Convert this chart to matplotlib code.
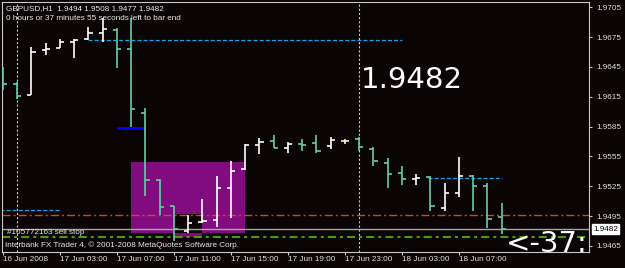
import matplotlib
matplotlib.use("Agg")
import matplotlib.pyplot as plt
import matplotlib.transforms as mtransforms
from matplotlib.patches import Rectangle
import numpy as np

plt.rcParams['lines.scale_dashes'] = False

# ---------------- data ----------------
opens  = [1.9638, 1.9628, 1.9617, 1.9662, 1.9664, 1.9670, 1.9673, 1.9679, 1.9682, 1.9663,
          1.9599, 1.9531, 1.9505, 1.9480, 1.9489, 1.9491, 1.9523, 1.9542, 1.9567, 1.9571,
          1.9564, 1.9568, 1.9569, 1.9566, 1.9571, 1.9573, 1.9563, 1.9548, 1.9538, 1.9532,
          1.9534, 1.9503, 1.9518, 1.9535, 1.9525, 1.9494]
highs  = [1.9645, 1.9630, 1.9665, 1.9669, 1.9673, 1.9673, 1.9685, 1.9694, 1.9684, 1.9694,
          1.9604, 1.9532, 1.9505, 1.9496, 1.9512, 1.9535, 1.9550, 1.9568, 1.9574, 1.9577,
          1.9570, 1.9573, 1.9577, 1.9575, 1.9573, 1.9575, 1.9565, 1.9553, 1.9545, 1.9537,
          1.9535, 1.9528, 1.9554, 1.9536, 1.9528, 1.9508]
lows   = [1.9622, 1.9613, 1.9617, 1.9657, 1.9664, 1.9654, 1.9672, 1.9670, 1.9644, 1.9585,
          1.9515, 1.9496, 1.9470, 1.9478, 1.9488, 1.9484, 1.9493, 1.9541, 1.9557, 1.9564,
          1.9559, 1.9561, 1.9559, 1.9563, 1.9568, 1.9561, 1.9545, 1.9523, 1.9526, 1.9526,
          1.9500, 1.9500, 1.9514, 1.9500, 1.9483, 1.9477]
closes = [1.9628, 1.9616, 1.9660, 1.9663, 1.9670, 1.9672, 1.9679, 1.9683, 1.9663, 1.9603,
          1.9531, 1.9504, 1.9482, 1.9488, 1.9490, 1.9523, 1.9540, 1.9567, 1.9570, 1.9564,
          1.9568, 1.9567, 1.9561, 1.9572, 1.9571, 1.9565, 1.9550, 1.9537, 1.9532, 1.9533,
          1.9505, 1.9518, 1.9535, 1.9525, 1.9492, 1.9482]

xtick_pos    = [0, 4, 8, 12, 16, 20, 24, 28, 32]
xtick_labels = ["16 Jun 2008", "17 Jun 03:00", "17 Jun 07:00", "17 Jun 11:00", "17 Jun 15:00",
                "17 Jun 19:00", "17 Jun 23:00", "18 Jun 03:00", "18 Jun 07:00"]
ytick_vals   = [1.9465, 1.9495, 1.9525, 1.9555, 1.9585, 1.9615, 1.9645, 1.9675, 1.9705]
ytick_labels = ["1.9465", "1.9495", "1.9525", "1.9555", "1.9585", "1.9615", "1.9645", "1.9675", "1.9705"]
separators   = [1, 25]          # day separators (bar index)

# chart objects (time index / price)
rect_main  = (9, 17, 1.9478, 1.9549)
rect_order = (12, 14, 1.9474, 1.9497)
blue_line  = (8, 10, 1.9584)
cyan_lines = [(6, 28, 1.9672), (-0.2, 4, 1.9501), (29.8, 35, 1.9533)]
red_level   = 1.9496
bid_level   = 1.9482
green_level = 1.9474

symbol = "GBPUSD,H1"
# ---------------------------------------

W, H = 625, 268
BG = '#0a0404'
BEAR = '#66cdaa'
BULL = '#ffffff'
DOJI = '#f4f4c8'
SMALL = dict(family=['Liberation Sans', 'DejaVu Sans'], fontsize=5.9, color='#e8e8e8')

fig = plt.figure(figsize=(W / 100, H / 100), dpi=100, facecolor=BG)

L, R, T, B = 2, 589, 2, 252
ax = fig.add_axes([L / W, (H - B) / H, (R - L) / W, (B - T) / H])
ax.set_facecolor(BG)

# pixel mapping of reference: x = 3 + 14.25*i ; y = 246 - (p-1.9465)*9946
dx = 14.25
ky = 9946.0
ax.set_xlim((L - 3) / dx, (R - 3) / dx)
ax.set_ylim(1.9465 - (B - 246) / ky, 1.9465 + (246 - T) / ky)

idx = np.arange(len(opens))
o = np.array(opens); h = np.array(highs); l = np.array(lows); c = np.array(closes)
cols = [BULL if cc > oo else (BEAR if cc < oo else DOJI) for oo, cc in zip(o, c)]

# rectangles (background)
x0, x1, y0, y1 = rect_main
ax.add_patch(Rectangle((x0, y0), x1 - x0, y1 - y0, facecolor='#800c80', edgecolor='none', zorder=1))
a0, a1, b0, b1 = rect_order
ax.add_patch(Rectangle((a0, b0), a1 - a0, b1 - b0, facecolor='#800c80', edgecolor='none', zorder=1))
ix0, ix1 = max(x0, a0), min(x1, a1)
iy0, iy1 = max(y0, b0), min(y1, b1)
if ix1 > ix0 and iy1 > iy0:
    ax.add_patch(Rectangle((ix0, iy0), ix1 - ix0, iy1 - iy0, facecolor=BG, edgecolor='none', zorder=1.1))

# separators
for s in separators:
    ax.axvline(s, color='#d0d0d0', lw=0.8, linestyle=(0, (1.5, 1.5)), zorder=2)

# horizontal levels
ax.axhline(red_level, color='#dc4416', lw=1.0, linestyle=(0, (5.8, 2.2, 1.4, 2.2)), zorder=2)
ax.axhline(green_level, color='#44a000', lw=1.5, linestyle=(0, (5.8, 2.9, 2.2, 2.9)), zorder=2)
ax.axhline(bid_level, color='#a8a8a8', lw=1.0, zorder=2)
for a, b, p in cyan_lines:
    ax.hlines(p, a, b, color='#12a4e4', lw=0.9, linestyle=(0, (2.9, 1.5)), zorder=2)
ax.hlines(blue_line[2], blue_line[0], blue_line[1], color='#0000ff', lw=2.2, zorder=2)

# bars
tl = 0.29
ax.vlines(idx, l, h, colors=cols, lw=1.2, zorder=3)
ax.hlines(o, idx - tl, idx, colors=cols, lw=1.2, zorder=3)
ax.hlines(c, idx, idx + tl, colors=cols, lw=1.2, zorder=3)

# axes styling
for sp in ['left', 'top', 'right', 'bottom']:
    ax.spines[sp].set_color('#c8c8c8')
    ax.spines[sp].set_linewidth(0.8)
ax.yaxis.tick_right()
ax.set_yticks(ytick_vals)
ax.set_yticklabels(ytick_labels)
ax.set_xticks(xtick_pos)
ax.set_xticklabels(xtick_labels, ha='left')
ax.tick_params(axis='y', colors='#c8c8c8', length=2.5, width=0.8, pad=2.5, labelcolor='#e0e0e0',
               labelsize=5.9)
ax.tick_params(axis='x', colors='#c8c8c8', length=2.5, width=0.8, pad=0.5, labelcolor='#e0e0e0',
               labelsize=5.9)
for lab in ax.get_xticklabels() + ax.get_yticklabels():
    lab.set_family(['Liberation Sans', 'DejaVu Sans'])

# bid label on price axis
bt = mtransforms.blended_transform_factory(ax.transAxes, ax.transData)
ax.text(1.0 + 4 / (R - L), bid_level, f"{closes[-1]:.4f}", transform=bt, ha='left', va='center',
        family=['Liberation Sans', 'DejaVu Sans'], fontsize=5.9, color='black',
        bbox=dict(facecolor='white', edgecolor='white', pad=0.8), zorder=6, clip_on=False)

# texts
def ftext(x, y, s, **kw):
    fig.text(x / W, 1 - y / H, s, **kw)

ftext(6, 9, f"{symbol}  {opens[-1]:.4f} {highs[-1]:.4f} {lows[-1]:.4f} {closes[-1]:.4f}",
      va='center', ha='left', zorder=10, **SMALL)
ftext(6, 18.5, "0 hours or 37 minutes 55 seconds left to bar end", va='center', ha='left', zorder=10, **SMALL)
ftext(7, 232.5, "#105772163 sell stop", va='center', ha='left', zorder=10, **SMALL)
ftext(5, 245, "Interbank FX Trader 4, \u00a9 2001-2008 MetaQuotes Software Corp.", va='center', ha='left',
      zorder=10, **SMALL)
ftext(361, 88, f"{closes[-1]:.4f}", va='baseline', ha='left', family='DejaVu Sans', fontsize=21,
      color='white', zorder=10)
ftext(506, 251.5, "<-37:", va='baseline', ha='left', family='DejaVu Sans', fontsize=21,
      color='white', zorder=10)

fig.savefig("out.png", dpi=100, facecolor=BG)
